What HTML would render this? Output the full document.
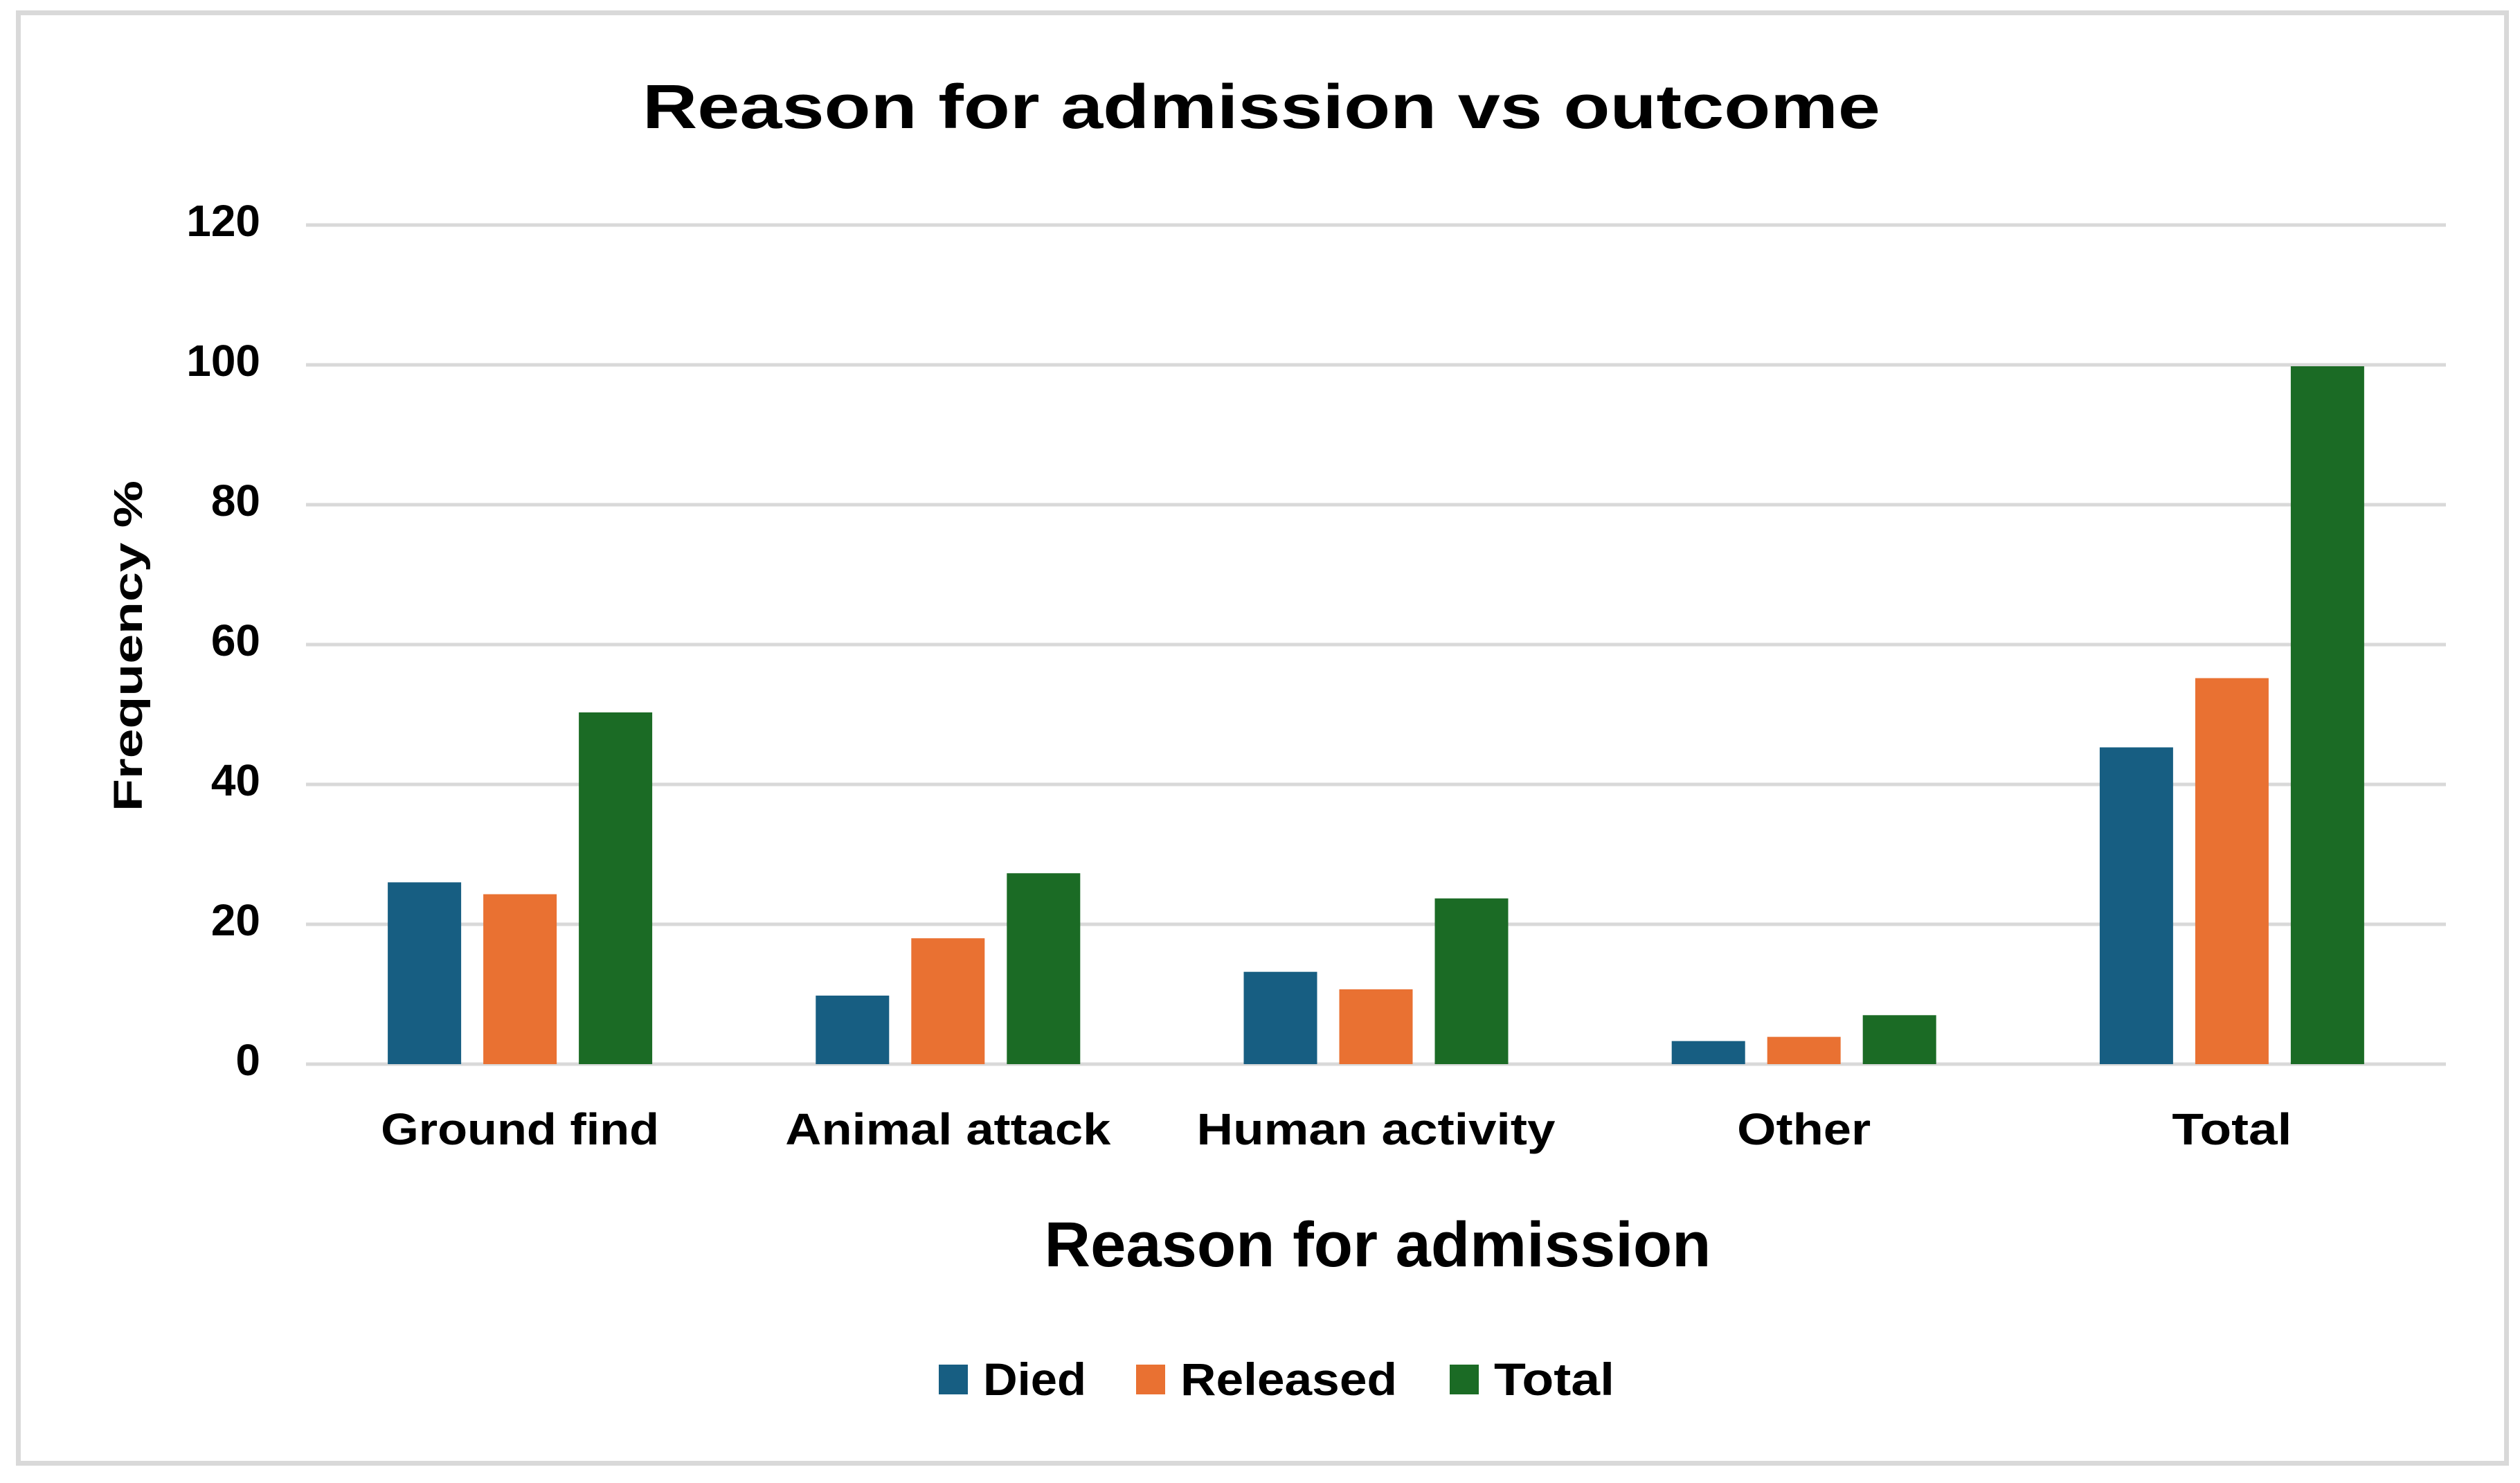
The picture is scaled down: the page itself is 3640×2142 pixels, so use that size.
<!DOCTYPE html>
<html><head><meta charset="utf-8"><style>
html,body{margin:0;padding:0;background:#fff;width:3640px;height:2142px;overflow:hidden}
svg{display:block;font-family:"Liberation Sans",Arial,sans-serif}
</style></head><body>
<svg id="chart" width="3640" height="2142" viewBox="0 0 3640 2142">
<rect x="26.5" y="18.5" width="3594" height="2095" fill="#fff" stroke="#d9d9d9" stroke-width="7"/>
<text x="1822" y="185" text-anchor="middle" font-size="90" font-weight="bold" fill="#000" textLength="1788" lengthAdjust="spacingAndGlyphs">Reason for admission vs outcome</text>
<g id="grid"></g>
<g id="bars"></g>
<g id="xlabels"></g>
<text transform="translate(205,933) rotate(-90)" text-anchor="middle" font-size="58" font-weight="bold" fill="#000" textLength="478" lengthAdjust="spacingAndGlyphs">Frequency %</text>
<text x="1990" y="1829" text-anchor="middle" font-size="92" font-weight="bold" fill="#000" textLength="963" lengthAdjust="spacingAndGlyphs">Reason for admission</text>
<g id="legend"></g>
</svg>
<script>
const categories = ["Ground find","Animal attack","Human activity","Other","Total"];
const seriesNames = ["Died","Released","Total"];
const died = [26, 9.8, 13.2, 3.3, 45.3];
const released = [24.3, 18, 10.7, 3.9, 55.2];
const total = [50.3, 27.3, 23.7, 7, 99.8];
const yTicks = [0,20,40,60,80,100,120];
const colors = ["#175e82","#e97132","#1b6b25"];
const labelWidths = [402, 470, 518, 193, 173];

const NS = "http://www.w3.org/2000/svg";
const x0 = 442, x1 = 3533, y0 = 1537, yTop = 325, yMax = 120;
const bandW = (x1 - x0) / categories.length;
const barW = 106, gap = 32;
function yScale(v){ return y0 - (v / yMax) * (y0 - yTop); }
function bandCenter(i){ return x0 + bandW * (i + 0.5); }
function mk(tag, attrs, parent){ const e = document.createElementNS(NS, tag); for (const k in attrs) e.setAttribute(k, attrs[k]); parent.appendChild(e); return e; }

const grid = document.getElementById('grid');
yTicks.forEach(t => {
  const y = yScale(t);
  const l = mk('line', {x1:x0, x2:x1, y1:y, y2:y, stroke:'#d9d9d9', 'stroke-width':5}, grid);
  
  
  const tx = mk('text', {x:376, y:y + 16, 'text-anchor':'end', 'font-size':64, 'font-weight':'bold', fill:'#000'}, grid);
  tx.textContent = String(t);
  
  
});

const bars = document.getElementById('bars');
const series = [died, released, total];
series.forEach((vals, s) => {
  vals.forEach((v, i) => {
    const cx = bandCenter(i) + (s - 1) * (barW + gap);
    const r = mk('rect', {x:cx - barW/2, y:yScale(v), width:barW, height:y0 - yScale(v), fill:colors[s]}, bars);
    
    
  });
});

const xl = document.getElementById('xlabels');
categories.forEach((c, i) => {
  const t = mk('text', {x:bandCenter(i), y:1653, 'text-anchor':'middle', 'font-size':64, 'font-weight':'bold', fill:'#000', textLength:labelWidths[i], lengthAdjust:'spacingAndGlyphs'}, xl);
  t.textContent = c;
  
  
});

const lg = document.getElementById('legend');
const legX = [1356, 1641, 2094];
const legW = [149, 313, 174];
seriesNames.forEach((n, s) => {
  const r = mk('rect', {x:legX[s], y:1971, width:42, height:43, fill:colors[s]}, lg);
  
  
  const t = mk('text', {x:legX[s] + 64, y:2015, 'font-size':66, 'font-weight':'bold', fill:'#000', textLength:legW[s], lengthAdjust:'spacingAndGlyphs'}, lg);
  t.textContent = n;
  
  
});
</script>
</body></html>
